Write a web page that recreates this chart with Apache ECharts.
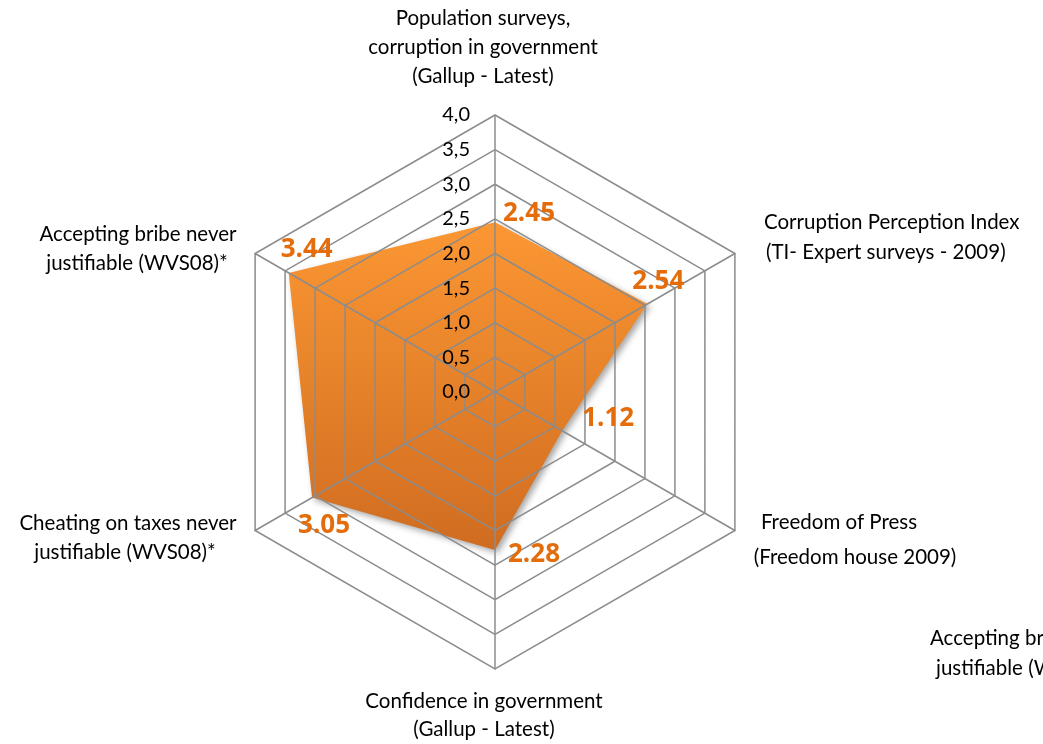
<!DOCTYPE html>
<html>
<head>
<meta charset="utf-8">
<style>
  html, body { margin: 0; padding: 0; background: #ffffff; }
  #chart { width: 1043px; height: 744px; }
</style>
<script src="https://cdn.jsdelivr.net/npm/echarts@6/dist/echarts.min.js"></script>
</head>
<body>
<div id="chart"></div>
<script>
// Indicators, clockwise from the top
const categories = [
  'Population surveys,\ncorruption in government\n(Gallup - Latest)',
  'Corruption Perception Index\n(TI- Expert surveys - 2009)',
  'Freedom of Press\n(Freedom house 2009)',
  'Confidence in government\n(Gallup - Latest)',
  'Cheating on taxes never\njustifiable (WVS08)*',
  'Accepting bribe never\njustifiable (WVS08)*'
];
const values = [2.45, 2.54, 1.12, 2.28, 3.05, 3.44];
const axisMax = 4;
const axisStep = 0.5;

const FONT = 'Lato, "Open Sans", sans-serif';
const CENTER = [495, 392];
const RADIUS = 277;
const GRID = '#8c8c8c';

// value-label offsets (px) from each vertex
const labelOffsets = [[34, -9], [11, -22], [46, -12], [39, 5], [12, 28], [18, -23]];

// ECharts radar places indicators counter-clockwise, so feed them in reverse order after the first
const ccwOrder = [0, 5, 4, 3, 2, 1];
const indicator = ccwOrder.map(i => ({ name: categories[i], max: axisMax, min: 0 }));
const radarValues = ccwOrder.map(i => values[i]);

// value-label points on a matching polar system (angle in degrees, clockwise from top)
const n = categories.length;
const labelPoints = values.map((v, i) => ({
  value: [v, i * 360 / n],
  label: { offset: labelOffsets[i] }
}));

// axis titles
function title(lines, x, y, align, lineGap) {
  return lines.map((t, k) => ({
    type: 'text',
    x: x[k] !== undefined ? x[k] : x[0],
    y: y + k * lineGap,
    style: {
      text: t,
      font: '20.5px ' + FONT,
      fill: '#000000',
      textAlign: align,
      textVerticalAlign: 'middle'
    }
  }));
}
const titles = [].concat(
  title(categories[0].split('\n'), [483], 18, 'center', 29),
  title(categories[1].split('\n'), [764, 766], 222, 'left', 30),
  title(['Freedom of Press'], [839], 522, 'center', 0),
  title(['(Freedom house 2009)'], [855], 557, 'center', 0),
  title(categories[3].split('\n'), [484], 701, 'center', 28),
  title(categories[4].split('\n'), [128, 125], 523, 'center', 29),
  title(categories[5].split('\n'), [138, 137], 234, 'center', 29),
  // overflowing copy of a title at the right edge
  title(['Accepting bribe never', 'justifiable (WVS08)*'], [930, 936], 638, 'left', 30)
);

const chart = echarts.init(document.getElementById('chart'), null, { renderer: 'canvas' });
chart.setOption({
  backgroundColor: '#ffffff',
  animation: false,
  radar: {
    z: 5,
    center: CENTER,
    radius: RADIUS,
    startAngle: 90,
    shape: 'polygon',
    splitNumber: axisMax / axisStep,
    indicator: indicator,
    axisName: { show: false },
    axisLine: { lineStyle: { color: GRID, width: 1.5 } },
    splitLine: { lineStyle: { color: GRID, width: 1.5 } },
    splitArea: { show: false },
    axisTick: { show: false },
    axisLabel: { show: false }
  },
  polar: { center: CENTER, radius: RADIUS },
  angleAxis: {
    type: 'value', min: 0, max: 360, startAngle: 90, clockwise: true,
    axisLine: { show: false }, axisTick: { show: false },
    axisLabel: { show: false }, splitLine: { show: false }
  },
  radiusAxis: {
    type: 'value', min: 0, max: axisMax, interval: axisStep,
    z: 10,
    axisLine: { show: false }, axisTick: { show: false }, splitLine: { show: false },
    axisLabel: {
      margin: 25,
      fontFamily: FONT, fontSize: 20, color: '#000000',
      formatter: v => v.toFixed(1).replace('.', ',')
    }
  },
  graphic: titles,
  series: [
    {
      type: 'radar',
      z: 2,
      symbol: 'none',
      lineStyle: { width: 0 },
      areaStyle: {
        opacity: 1,
        color: new echarts.graphic.LinearGradient(0, 0, 0, 1, [
          { offset: 0, color: '#fb9733' },
          { offset: 1, color: '#d06c20' }
        ]),
        shadowColor: 'rgba(0,0,0,0.35)',
        shadowBlur: 6,
        shadowOffsetX: 3,
        shadowOffsetY: 3
      },
      data: [{ value: radarValues }]
    },
    {
      type: 'scatter',
      coordinateSystem: 'polar',
      z: 6,
      symbolSize: 1,
      itemStyle: { color: 'rgba(0,0,0,0)', opacity: 1 },
      label: {
        show: true,
        position: 'inside',
        fontFamily: '"Open Sans", sans-serif',
        fontWeight: 'bold',
        fontSize: 26,
        color: '#e46c0a',
        formatter: p => p.value[0].toFixed(2)
      },
      data: labelPoints
    }
  ]
});
</script>
</body>
</html>
